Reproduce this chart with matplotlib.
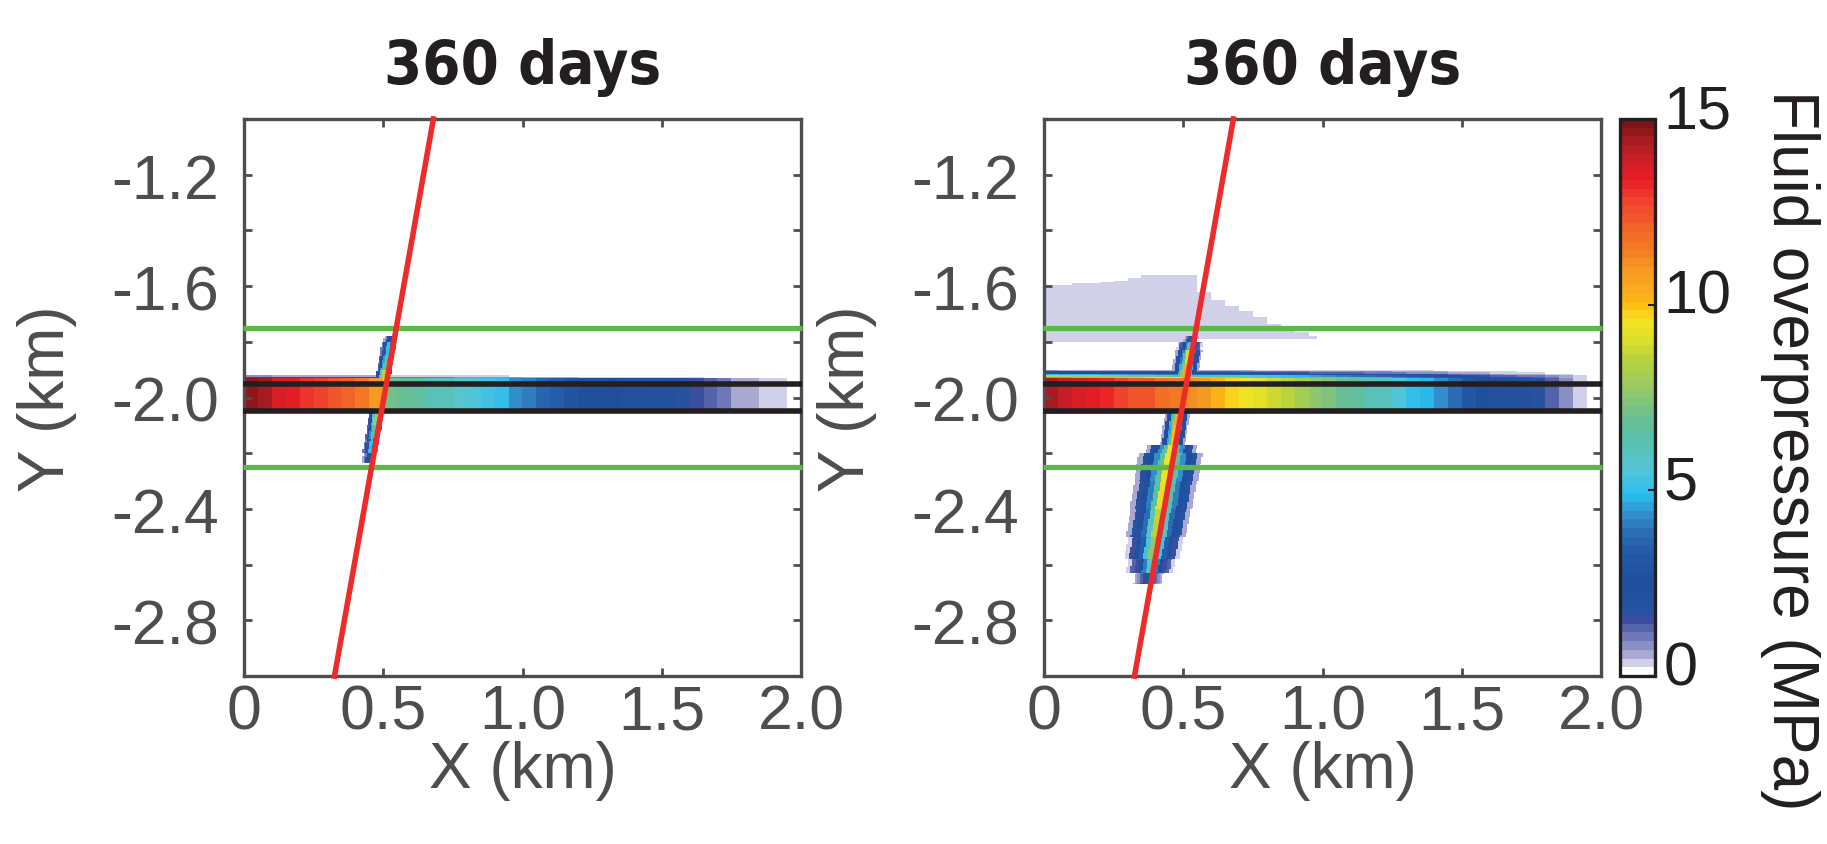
import numpy as np
import matplotlib
matplotlib.use("Agg")
import matplotlib.pyplot as plt
import matplotlib.transforms as mtransforms
from matplotlib.colors import LinearSegmentedColormap

# ---- values ----
titles = ["360 days", "360 days"]
x_ticks = [0, 0.5, 1.0, 1.5, 2.0]
x_ticklabels = ["0", "0.5", "1.0", "1.5", "2.0"]
y_ticks = [-2.8, -2.6, -2.4, -2.2, -2.0, -1.8, -1.6, -1.4, -1.2]
y_ticklabels = ["-2.8", "", "-2.4", "", "-2.0", "", "-1.6", "", "-1.2"]
cbar_ticks = [0, 5, 10, 15]
cbar_label = "Fluid overpressure (MPa)"

green_y = [-1.75, -2.25]      # caprock / basement markers
black_y = [-1.95, -2.05]      # injection reservoir
fault_x = [0.325, 0.68]       # fault trace at y = -3 and y = -1
fault_y = [-3.0, -1.0]
res_top, res_bot = -1.93, -2.045

# reservoir overpressure (MPa) in 0.05 km columns, x = 0 .. 2 km
res_left = [14.7, 14.3, 13.8, 13.4, 13.1, 12.8, 12.4, 12.0, 11.5, 11.0,
            7.2, 6.9, 6.6, 6.3, 6.1, 5.8, 5.6, 5.3, 5.0, 4.4,
            4.0, 3.6, 3.3, 3.0, 2.8, 2.6, 2.4, 2.3, 2.2, 2.1,
            2.0, 1.8, 1.5, 1.2, 1.0, 0.7, 0.5, 0.35, 0.3, 0.0]
res_right = [14.3, 14.0, 13.6, 13.4, 13.2, 12.8, 12.4, 12.2, 11.9, 11.6,
             11.2, 10.8, 10.3, 9.8, 9.5, 9.2, 8.8, 8.5, 8.1, 7.7,
             7.3, 7.0, 6.6, 6.3, 5.9, 5.5, 5.1, 4.9, 4.3, 3.8,
             3.2, 2.7, 2.3, 2.0, 1.9, 1.7, 1.3, 0.8, 0.4, 0.0]

# pressure spreading out of the reservoir (fraction of reservoir value per 5 m row)
halo_up_left = [0.16, 0.05]
halo_dn_left = [0.12, 0.04]
halo_up_right = [0.8, 0.6, 0.35, 0.18, 0.12, 0.05]
halo_dn_right = [0.2, 0.14, 0.05]

# leakage along the fault: depth bins, core pressure, half width (km)
fz_edges_left = [-1.78, -1.80, -1.85, -1.90, -1.93, -2.05, -2.10, -2.15, -2.20, -2.235]
fz_core_left = [2.5, 5.0, 7.0, 8.5, 9.5, 8.0, 6.5, 5.0, 3.0]
fz_hw_left = [0.022, 0.026, 0.026, 0.026, 0.026, 0.026, 0.026, 0.026, 0.022]
cross_left = [1.0, 0.65, 0.35, 0.2]

fz_edges_right = [-1.78, -1.80, -1.83, -1.88, -1.93, -2.05, -2.10, -2.17, -2.20,
                  -2.30, -2.40, -2.50, -2.58, -2.63, -2.67]
fz_core_right = [3.0, 6.0, 9.0, 10.5, 11.5, 10.5, 10.0, 9.5, 9.5, 9.2, 8.5, 7.5, 6.0, 3.0]
fz_hw_right = [0.03, 0.045, 0.048, 0.048, 0.048, 0.045, 0.045, 0.09, 0.115, 0.112,
               0.108, 0.10, 0.085, 0.06]
cross_right = [1.0, 0.7, 0.45, 0.25, 0.2, 0.06]

# faint pressure cloud above the caprock (right panel), 0.05 km columns from x = 0
cloud_top = [-1.593, -1.593, -1.592, -1.590, -1.585, -1.578, -1.570, -1.560, -1.558, -1.558,
             -1.558, -1.620, -1.650, -1.668, -1.690, -1.710, -1.735, -1.750, -1.765, -1.778]
cloud_bot = [-1.80, -1.80, -1.80, -1.80, -1.80, -1.80, -1.80, -1.80, -1.80, -1.80,
             -1.80, -1.79, -1.79, -1.79, -1.79, -1.79, -1.79, -1.79, -1.79, -1.79]
cloud_p = 0.4

# colour scale of the original (value, colour)
cmap_stops = [(0.0, "#ffffff"), (0.24, "#d0d0e8"), (0.48, "#a8a8d3"), (0.71, "#8a8fc6"),
              (0.95, "#7078ba"), (1.19, "#5563ab"), (1.43, "#3c4ea0"), (1.7, "#2353a1"),
              (2.5, "#1f4f9c"), (3.2, "#2359a7"), (3.8, "#2a6db4"), (4.4, "#3595d0"),
              (4.8, "#27bdee"), (5.2, "#3fc2e6"), (5.6, "#58c5d2"), (6.06, "#59c2bc"),
              (6.5, "#5cbfa5"), (7.0, "#6bbf92"), (7.4, "#84c47a"), (7.9, "#9ccb5e"),
              (8.5, "#b5d33e"), (8.95, "#d6dc2d"), (9.5, "#eee526"), (9.8, "#fcd11c"),
              (10.1, "#fdb913"), (10.5, "#f9a91f"), (11.0, "#f79a21"), (11.5, "#f47d24"),
              (12.0, "#f26c27"), (12.3, "#f15a29"), (12.7, "#f04b2e"), (13.0, "#ee3a2f"),
              (13.5, "#e81c24"), (13.9, "#d21f26"), (14.2, "#bb1e25"), (14.5, "#a81c22"),
              (14.8, "#8c1619"), (15.0, "#7f1416")]

plt.rcParams['font.family'] = ['Liberation Sans', 'DejaVu Sans']
GRAY = "#4d4d4f"
INK = "#231f20"

cmap = LinearSegmentedColormap.from_list("fluid", [(v / 15.0, c) for v, c in cmap_stops], N=64)

# grid for the pressure field
nx, ny = 400, 400
xe = np.linspace(0, 2, nx + 1)
ye = np.linspace(-3, -1, ny + 1)
X, Y = np.meshgrid(0.5 * (xe[:-1] + xe[1:]), 0.5 * (ye[:-1] + ye[1:]))
col = np.minimum((X / 0.05).astype(int), 39)
slope = (fault_x[1] - fault_x[0]) / (fault_y[1] - fault_y[0])


def fault_at(y):
    return fault_x[0] + (y - fault_y[0]) * slope


def build_field(res_p, halo_up, halo_dn, fz_edges, fz_core, fz_hw, cross, shift,
                ctop=None, cbot=None):
    Z = np.zeros_like(X)
    p = np.asarray(res_p)[col]
    m = (Y <= res_top) & (Y >= res_bot)
    Z[m] = p[m]
    dy = 0.005
    for k, f in enumerate(halo_up):
        m = (Y > res_top + k * dy) & (Y <= res_top + (k + 1) * dy)
        Z[m] = p[m] * f
    for k, f in enumerate(halo_dn):
        m = (Y < res_bot - k * dy) & (Y >= res_bot - (k + 1) * dy)
        Z[m] = p[m] * f
    cross = np.asarray(cross)
    for k in range(len(fz_core)):
        rows = (Y <= fz_edges[k]) & (Y > fz_edges[k + 1])
        d = np.abs(X - (fault_at(Y) + shift)) / fz_hw[k]
        idx = (d * len(cross)).astype(int)
        inside = rows & (idx < len(cross))
        val = fz_core[k] * cross[np.minimum(idx, len(cross) - 1)]
        Z[inside] = np.maximum(Z[inside], val[inside])
    if ctop is not None:
        n = len(ctop)
        cc = np.minimum(col, n - 1)
        top = np.asarray(ctop)[cc]
        bot = np.asarray(cbot)[cc]
        m = (X < 0.05 * n - 0.02) & (Y <= top) & (Y >= bot)
        Z[m] = np.maximum(Z[m], cloud_p)
    return Z


fields = [
    build_field(res_left, halo_up_left, halo_dn_left, fz_edges_left, fz_core_left,
                fz_hw_left, cross_left, -0.016),
    build_field(res_right, halo_up_right, halo_dn_right, fz_edges_right, fz_core_right,
                fz_hw_right, cross_right, -0.012, cloud_top, cloud_bot),
]

fig = plt.figure(figsize=(18.27, 8.45), dpi=100)
W, H = 1827.0, 845.0
ax_w, ax_h = 557 / W, 557 / H
ax_b = (H - 677) / H
lefts = [244 / W, 1044 / W]

im = None
for i in range(2):
    ax = fig.add_axes([lefts[i], ax_b, ax_w, ax_h])
    im = ax.imshow(fields[i], extent=(0, 2, -3, -1), origin='lower', cmap=cmap,
                   vmin=0, vmax=15, interpolation='nearest', aspect='auto')
    for y in green_y:
        ax.plot([-0.005, 2.005], [y, y], color="#5cb947", lw=3.8, clip_on=False,
                solid_capstyle='butt', zorder=3)
    for y in black_y:
        ax.plot([-0.005, 2.005], [y, y], color=INK, lw=4.0, clip_on=False,
                solid_capstyle='butt', zorder=3)
    fy = [fault_y[0] - 0.01, fault_y[1] + 0.01]
    ax.plot([fault_at(fy[0]), fault_at(fy[1])], fy, color="#ee2b2b", lw=4.0,
            clip_on=False, solid_capstyle='butt', zorder=4)

    ax.set_xlim(0, 2)
    ax.set_ylim(-3, -1)
    ax.set_xticks(x_ticks)
    ax.set_xticklabels(x_ticklabels)
    ax.set_yticks(y_ticks)
    ax.set_yticklabels(y_ticklabels)
    ax.tick_params(axis='both', direction='in', length=5.5, width=2, color=GRAY,
                   labelcolor=GRAY, labelsize=45, top=True, right=True)
    ax.tick_params(axis='x', pad=5)
    ax.tick_params(axis='y', pad=18)
    for s in ax.spines.values():
        s.set_linewidth(2.4)
        s.set_color(GRAY)
    ax.text(0.5, -0.168, "X (km)", transform=ax.transAxes, ha='center', va='center',
            fontsize=46, color=GRAY)
    ax.text(-0.354, 0.5, "Y (km)", transform=ax.transAxes, ha='center', va='center',
            rotation=90, fontsize=46, color=GRAY)
    ax.set_title(titles[i], fontsize=44, fontweight='bold', fontstretch='condensed',
                 color=INK, pad=26,
                 family=['Liberation Sans Narrow', 'DejaVu Sans', 'Liberation Sans'])

cax = fig.add_axes([1620 / W, ax_b, 35 / W, ax_h])
cbar = fig.colorbar(im, cax=cax, ticks=cbar_ticks)
cbar.outline.set_linewidth(2.4)
cbar.outline.set_edgecolor(INK)
cax.tick_params(direction='in', length=5, width=1.5, color=INK, labelcolor=INK,
                labelsize=44, pad=6)
shift_up = mtransforms.ScaledTranslation(0, 10 / 72.0, fig.dpi_scale_trans)
for lab in cax.get_yticklabels():
    lab.set_transform(lab.get_transform() + shift_up)
fig.text(1790 / W, 1 - 450 / H, cbar_label, rotation=270, ha='center', va='center',
         fontsize=46, color=INK)

fig.savefig("out.png", dpi=100)
